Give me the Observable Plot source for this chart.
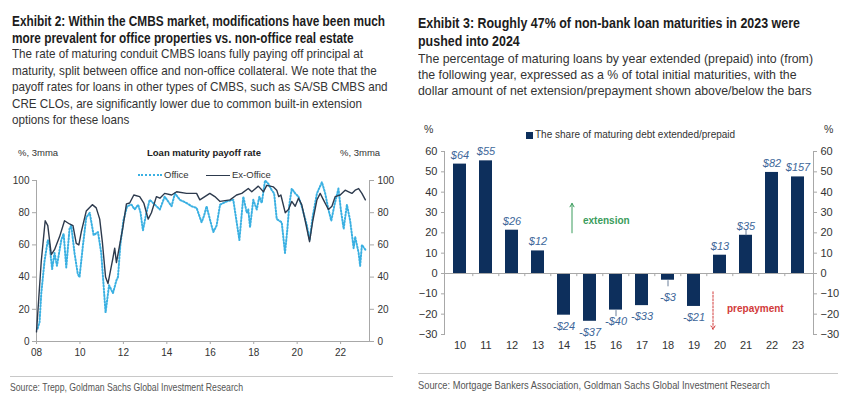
<!DOCTYPE html>
<html><head><meta charset="utf-8">
<script src="https://cdn.jsdelivr.net/npm/d3@7"></script>
<script src="https://cdn.jsdelivr.net/npm/@observablehq/plot@0.6"></script>
<style>
body{margin:0;background:#fff;width:848px;height:407px;position:relative;overflow:hidden;font-family:"Liberation Sans",Arial,sans-serif;}
.a{position:absolute;white-space:nowrap;}
.fit{transform-origin:0 0;}
.ttl{font-weight:bold;font-size:14.5px;color:#1c1c1c;}
.sub{font-size:13.5px;color:#333;}
.src{font-size:11px;color:#555;}
.sm{font-size:9.5px;color:#333;line-height:12px;}
.rule{position:absolute;height:0;border-top:1px solid #c8c8c8;}
svg{overflow:visible;}
</style></head>
<body>
<div id="lt" class="a fit ttl" data-w="373" style="left:12px;top:13px;line-height:16.5px"><span>Exhibit 2: Within the CMBS market, modifications have been much</span><br>more prevalent for office properties vs. non-office real estate</div>
<div id="ls" class="a fit sub" data-w="351" style="left:12px;top:46px;line-height:16.6px"><span>The rate of maturing conduit CMBS loans fully paying off principal at</span><br>maturity, split between office and non-office collateral. We note that the<br>payoff rates for loans in other types of CMBS, such as SA/SB CMBS and<br>CRE CLOs, are significantly lower due to common built-in extension<br>options for these loans</div>
<div id="rt" class="a fit ttl" data-w="382" style="left:418px;top:14px;line-height:18.3px"><span>Exhibit 3: Roughly 47% of non-bank loan maturities in 2023 were</span><br>pushed into 2024</div>
<div id="rs" class="a fit sub" data-w="395" style="left:418px;top:51px;line-height:16.2px"><span>The percentage of maturing loans by year extended (prepaid) into (from)</span><br>the following year, expressed as a % of total initial maturities, with the<br>dollar amount of net extension/prepayment shown above/below the bars</div>

<div id="left" class="a" style="left:0;top:140px;"></div>
<div id="right" class="a" style="left:418px;top:120px;"></div>

<!-- left chart headers -->
<div class="a sm" style="left:18px;top:147px;">%, 3mma</div>
<div class="a sm" style="left:340px;top:147px;">%, 3mma</div>
<div class="a sm" style="left:147px;top:147px;font-weight:bold;color:#222;">Loan maturity payoff rate</div>
<div class="a" style="left:138px;top:174px;width:24px;border-top:2px dotted #3ab0e2;"></div>
<div class="a sm" style="left:164px;top:169px;">Office</div>
<div class="a" style="left:206px;top:175px;width:24px;border-top:1.5px solid #2d3a4d;"></div>
<div class="a sm" style="left:232px;top:169px;">Ex-Office</div>

<!-- right chart headers -->
<div class="a" style="left:424px;top:123px;font-size:10.5px;color:#333;">%</div>
<div class="a" style="left:824px;top:123px;font-size:10.5px;color:#333;">%</div>
<div class="a" style="left:526px;top:131.5px;width:7px;height:7px;background:#0d2f5c;"></div>
<div class="a" style="left:535px;top:128px;font-size:10px;color:#333;line-height:14px;">The share of maturing debt extended/prepaid</div>

<div class="rule" style="left:10px;top:376px;width:383px;"></div>
<div class="rule" style="left:418px;top:373px;width:420px;"></div>
<div id="lsrc" class="a fit src" data-w="233" style="left:10px;top:381px;"><span>Source: Trepp, Goldman Sachs Global Investment Research</span></div>
<div id="rsrc" class="a fit src" data-w="352" style="left:418px;top:379px;"><span>Source: Mortgage Bankers Association, Goldman Sachs Global Investment Research</span></div>

<script>
// ---------- Exhibit 2 data: [decimal year, payoff rate %] ----------
const officeSeries = [[2008.05,8],[2008.14,12],[2008.22,30],[2008.37,50],[2008.52,63],[2008.6,60],[2008.72,45],[2008.83,55],[2008.94,47],[2009.14,63],[2009.25,67],[2009.37,46],[2009.52,70],[2009.6,72],[2009.75,55],[2009.9,42],[2009.98,40],[2010.14,60],[2010.29,77],[2010.45,80],[2010.63,66],[2010.83,68],[2010.98,55],[2011.18,18],[2011.34,35],[2011.52,30],[2011.68,38],[2011.75,40],[2011.86,60],[2012.0,75],[2012.17,84],[2012.37,85],[2012.52,82],[2012.68,85],[2012.79,80],[2012.9,69],[2013.06,80],[2013.21,88],[2013.45,85],[2013.68,82],[2013.9,90],[2014.22,84],[2014.37,92],[2014.6,88],[2014.91,86],[2015.14,84],[2015.37,83],[2015.6,74],[2015.71,78],[2015.83,84],[2015.98,76],[2016.14,68],[2016.29,72],[2016.45,85],[2016.75,87],[2017.06,88],[2017.34,63],[2017.52,90],[2017.68,80],[2017.75,82],[2017.83,71],[2017.98,88],[2018.14,82],[2018.26,90],[2018.37,86],[2018.52,100],[2018.67,98],[2018.83,94],[2018.94,92],[2019.06,76],[2019.29,74],[2019.44,55],[2019.55,70],[2019.64,85],[2019.75,95],[2019.91,92],[2020.06,90],[2020.21,84],[2020.45,72],[2020.57,63],[2020.72,78],[2020.91,92],[2021.14,99],[2021.29,92],[2021.44,82],[2021.57,75],[2021.72,85],[2021.9,95],[2022.01,82],[2022.14,70],[2022.29,85],[2022.44,75],[2022.6,58],[2022.67,65],[2022.83,55],[2022.9,47],[2022.98,60],[2023.14,57]];
const exOfficeSeries = [[2008.0,6],[2008.22,50],[2008.4,75],[2008.52,72],[2008.68,54],[2008.83,57],[2009.06,65],[2009.29,75],[2009.52,73],[2009.68,72],[2009.83,61],[2009.95,60],[2010.06,68],[2010.29,81],[2010.57,85],[2010.75,83],[2010.91,76],[2011.03,62],[2011.18,40],[2011.29,36],[2011.52,52],[2011.6,58],[2011.68,49],[2011.98,71],[2012.14,85.5],[2012.29,86],[2012.48,91],[2012.75,90],[2012.94,86],[2013.14,76],[2013.29,80],[2013.52,90],[2013.68,89],[2013.9,92],[2014.22,91],[2014.45,93],[2014.91,92],[2015.37,92],[2015.52,88],[2015.98,92],[2016.21,90],[2016.45,87],[2016.91,88],[2017.21,91],[2017.45,92],[2017.75,95],[2017.91,93],[2018.21,96.5],[2018.45,93],[2018.6,97],[2018.91,96],[2019.06,94],[2019.15,90],[2019.25,91],[2019.45,80],[2019.6,82],[2019.75,87],[2019.91,84],[2020.06,89],[2020.21,85],[2020.37,75],[2020.57,62],[2020.72,75],[2020.91,88],[2021.06,92],[2021.21,88],[2021.44,82],[2021.6,84],[2021.75,90],[2021.98,91],[2022.21,94],[2022.37,93],[2022.52,92],[2022.67,94],[2022.83,95],[2022.98,92],[2023.14,88]];
const leftYTicks = [0,20,40,60,80,100];
const leftXTicks = [2008,2010,2012,2014,2016,2018,2020,2022];

// ---------- Exhibit 3 data ----------
const years = ["10","11","12","13","14","15","16","17","18","19","20","21","22","23"];
const shares = [53.8,55.4,21.3,11.1,-20.5,-23.5,-18,-15.8,-3.3,-16.2,9,18.8,49.7,47.5];
const amounts = ["$64","$55","$26","$12","-$24","-$37","-$40","-$33","-$3","-$21","$13","$35","$82","$157"];
const leaderYears = ["16","18","21"];
const rightYTicks = [-30,-20,-10,0,10,20,30,40,50,60];
const annotations = [
  {x:"14", y1:20, y2:34.5, ty:26, label:"extension", color:"#3a9c5c", dash:null, adx:8, tdx:19},
  {x:"20", y1:-9, y2:-27.5, ty:-17.5, label:"prepayment", color:"#d23a3a", dash:"2,1.5", adx:-7, tdx:7}
];

// squeeze the header texts to the condensed width of the original
document.querySelectorAll(".fit").forEach(el => {
  const w = el.querySelector("span").getBoundingClientRect().width;
  el.style.transform = `scaleX(${(+el.dataset.w) / w})`;
});

const toP = s => s.map(([x,y]) => ({x,y}));
const office = toP(officeSeries), exOffice = toP(exOfficeSeries);

const left = Plot.plot({
  width:400, height:225, marginLeft:36, marginRight:31, marginTop:40, marginBottom:24,
  x:{domain:[2008,2023.33]}, y:{domain:[0,100]},
  style:{fontFamily:"'Liberation Sans',Arial,sans-serif", fontSize:"10px", color:"#333", background:"transparent"},
  marks:[
    Plot.frame({anchor:"left", stroke:"#a8a8a8"}),
    Plot.frame({anchor:"right", stroke:"#a8a8a8"}),
    Plot.frame({anchor:"bottom", stroke:"#a8a8a8"}),
    Plot.axisY({anchor:"left", ticks:leftYTicks, tickSize:4, tickPadding:3, label:null, stroke:"#a8a8a8", fill:"#333"}),
    Plot.axisY({anchor:"right", ticks:leftYTicks, tickSize:4, tickPadding:4, label:null, stroke:"#a8a8a8", fill:"#333"}),
    Plot.axisX({ticks:leftXTicks, tickFormat:d=>String(d%100).padStart(2,"0"), tickSize:3, tickPadding:4, label:null, stroke:"#a8a8a8", fill:"#333"}),
    Plot.line(office, {x:"x", y:"y", stroke:"#3ab0e2", strokeWidth:2, strokeDasharray:"1.3,1.9"}),
    Plot.line(exOffice, {x:"x", y:"y", stroke:"#2d3a4d", strokeWidth:1.4})
  ]
});
document.getElementById("left").appendChild(left);

const bars = years.map((yr,i) => ({yr, v:shares[i], t:amounts[i]}));
const leaders = bars.filter(d => leaderYears.includes(d.yr));
const lab = {fill:"#40679a", fontStyle:"italic", fontSize:11};
const right = Plot.plot({
  width:430, height:235, marginLeft:26, marginRight:35, marginTop:31, marginBottom:21,
  x:{domain:years, paddingInner:0.5, paddingOuter:0.25},
  y:{domain:[-30,60]},
  style:{fontFamily:"'Liberation Sans',Arial,sans-serif", fontSize:"11px", color:"#333", background:"transparent"},
  marks:[
    Plot.frame({anchor:"left", stroke:"#a8a8a8"}),
    Plot.frame({anchor:"right", stroke:"#a8a8a8"}),
    Plot.axisY({anchor:"left", ticks:rightYTicks, tickSize:3, tickPadding:4, label:null, stroke:"#a8a8a8", fill:"#333"}),
    Plot.axisY({anchor:"right", ticks:rightYTicks, tickSize:3, tickPadding:4, label:null, stroke:"#a8a8a8", fill:"#333"}),
    Plot.axisX({tickSize:0, tickPadding:7, label:null, fill:"#333"}),
    Plot.barY(bars, {x:"yr", y:"v", fill:"#0d2f5c"}),
    Plot.ruleY([0], {stroke:"#a8a8a8"}),
    // small category-boundary ticks on the zero line
    Plot.link(years.slice(1), {x1:d=>d, x2:d=>d, y1:0, y2:-1.3, dx:-13.2, stroke:"#a8a8a8"}),
    Plot.link(leaders, {x1:"yr", x2:"yr", y1:"v", y2:d => d.v + Math.sign(d.v)*3, stroke:"#6a7f99", strokeWidth:1}),
    Plot.text(bars.filter(d=>d.v>0), {x:"yr", y:"v", text:"t", dy:-9, ...lab}),
    Plot.text(bars.filter(d=>d.v<0 && d.v>-5), {x:"yr", y:"v", text:"t", dy:17, ...lab}),
    Plot.text(bars.filter(d=>d.v<=-5), {x:"yr", y:"v", text:"t", dy:11, ...lab}),
    ...annotations.map(a => Plot.arrow([a], {x1:"x", x2:"x", y1:"y1", y2:"y2", dx:a.adx, stroke:a.color, strokeWidth:1, headLength:6, strokeDasharray:a.dash})),
    ...annotations.map(a => Plot.text([a], {x:"x", y:"ty", text:"label", dx:a.tdx, textAnchor:"start", fill:a.color, fontWeight:"bold", fontSize:10}))
  ]
});
document.getElementById("right").appendChild(right);
</script>
</body></html>
